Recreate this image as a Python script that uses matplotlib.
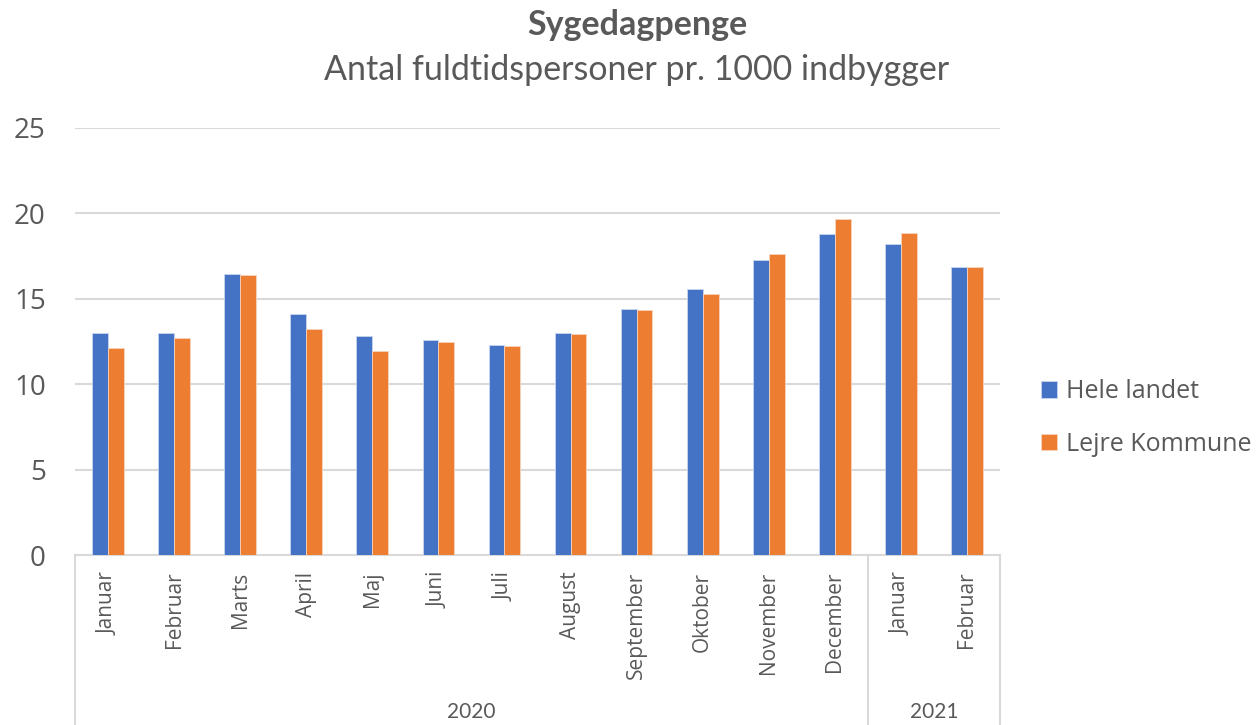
import matplotlib
matplotlib.use("Agg")
import matplotlib.pyplot as plt
from matplotlib.transforms import blended_transform_factory
import numpy as np

months = ["Januar", "Februar", "Marts", "April", "Maj", "Juni", "Juli", "August",
          "September", "Oktober", "November", "December", "Januar", "Februar"]
years = ["2020", "2021"]
year_counts = [12, 2]
hele_landet = [13.0, 13.0, 16.45, 14.1, 12.8, 12.6, 12.3, 13.0, 14.4, 15.55, 17.25, 18.8, 18.2, 16.85]
lejre = [12.1, 12.7, 16.4, 13.25, 11.95, 12.5, 12.25, 12.95, 14.35, 15.3, 17.65, 19.65, 18.85, 16.85]
series_names = ["Hele landet", "Lejre Kommune"]
colors = ["#4472C4", "#ED7D31"]
TXT = "#595959"

fig = plt.figure(figsize=(12.58, 7.25), dpi=100)
ax = fig.add_axes([75/1258, 1-555/725, 925/1258, (555-128)/725])

x = np.arange(len(months))
w = 0.24
ax.bar(x - w/2, hele_landet, w, color=colors[0], edgecolor="#c9d5ee", linewidth=0.6, label=series_names[0], zorder=3)
ax.bar(x + w/2, lejre, w, color=colors[1], edgecolor="#f8d3bb", linewidth=0.6, label=series_names[1], zorder=3)

ax.set_xlim(-0.5, len(months) - 0.5)
ax.set_ylim(0, 25)
ax.set_yticks([0, 5, 10, 15, 20, 25])
ax.yaxis.grid(True, color="#d9d9d9", linewidth=1.5, zorder=0)
ax.set_axisbelow(True)
for s in ["top", "right", "left"]:
    ax.spines[s].set_visible(False)
ax.spines["bottom"].set_color("#d9d9d9")
ax.spines["bottom"].set_linewidth(1.5)
ax.tick_params(axis="y", length=0, pad=21, labelsize=20, labelcolor=TXT)
for t in ax.get_yticklabels():
    t.set_fontfamily("Open Sans")

ax.set_xticks(x)
ax.set_xticklabels(months, rotation=90, fontsize=15, color=TXT, fontfamily="Open Sans")
ax.tick_params(axis="x", length=0, pad=12)

# group separators below axis
tr = blended_transform_factory(ax.transData, fig.transFigure)
bottom_axis = 1 - 555/725
bounds = [-0.5]
acc = -0.5
for c in year_counts:
    acc += c
    bounds.append(acc)
for b in bounds:
    ax.plot([b, b], [0, bottom_axis], transform=tr, color="#d9d9d9", linewidth=1.5, clip_on=False)
start = -0.5
for yr, c in zip(years, year_counts):
    ax.text(start + c/2, 1-712/725, yr, transform=tr, ha="center", va="center", fontsize=15,
            color=TXT, fontfamily="Lato", clip_on=False)
    start += c

fig.text(637/1258, 1-35/725, "Sygedagpenge", ha="center", va="baseline", fontsize=24.5,
         fontweight="bold", color=TXT, fontfamily="Lato")
fig.text(637/1258, 1-80/725, "Antal fuldtidspersoner pr. 1000 indbygger", ha="center", va="baseline",
         fontsize=24.5, color=TXT, fontfamily="Lato")

leg = fig.legend(loc="center left", bbox_to_anchor=(1041/1258, 1-418/725), frameon=False,
                 labelcolor=TXT, handlelength=0.65, handleheight=0.65,
                 handletextpad=0.35, labelspacing=1.1, borderpad=0, borderaxespad=0,
                 prop={"family": "Open Sans", "size": 18})

fig.savefig("out.png", dpi=100)
